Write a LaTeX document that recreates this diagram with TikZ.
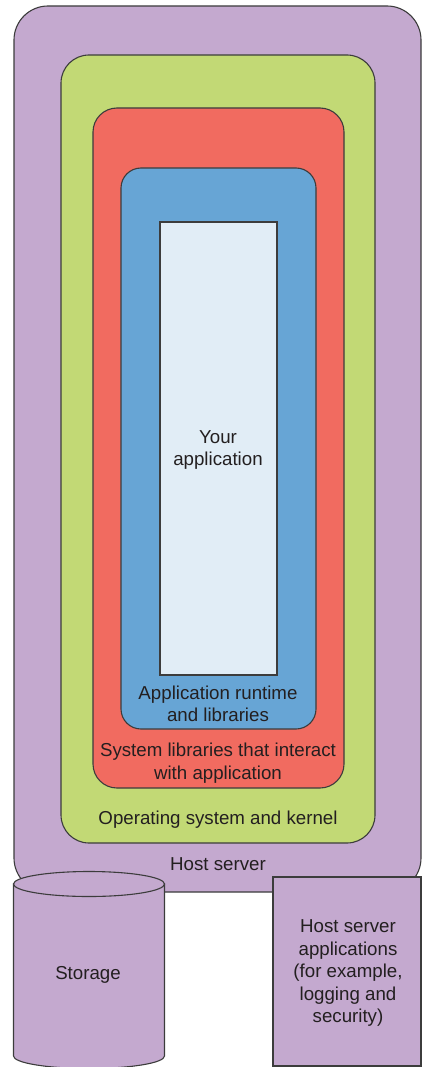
\documentclass[tikz,border=0pt]{standalone}
\usepackage{fontspec}
\setmainfont{Liberation Sans}
\definecolor{hostc}{RGB}{196,169,207}
\definecolor{osc}{RGB}{194,217,117}
\definecolor{sysc}{RGB}{241,107,96}
\definecolor{rtc}{RGB}{103,165,213}
\definecolor{appc}{RGB}{225,237,246}
\definecolor{edgec}{RGB}{60,60,60}
\definecolor{txtc}{RGB}{35,31,32}
\begin{document}
\begin{tikzpicture}[x=1pt,y=-1pt,
  layer/.style={draw=edgec,line width=1.1pt,inner sep=0pt,outer sep=0pt},
  lbl/.style={text=txtc,font=\fontsize{18.7}{22.5}\selectfont,align=center,inner sep=0pt}]
\useasboundingbox (0,0) rectangle (423,1067);
\node[layer,fill=hostc,rounded corners=34pt,minimum width=407pt,minimum height=886pt] (host) at (217.5,449) {};
\node[layer,fill=osc,rounded corners=28pt,minimum width=314pt,minimum height=788pt] (os) at (218,449) {};
\node[layer,fill=sysc,rounded corners=24pt,minimum width=251pt,minimum height=680pt] (sys) at (218.5,448) {};
\node[layer,fill=rtc,rounded corners=20pt,minimum width=195pt,minimum height=561pt] (rt) at (218.5,448.5) {};
\node[layer,fill=appc,minimum width=117pt,minimum height=453pt] (app) at (218.5,448.5) {};
\node[lbl] (applbl) at (218,450) {Your\\application};
\node[lbl] (rtlbl) at (218,704) {Application runtime\\and libraries};
\node[lbl] (syslbl) at (218,763) {System libraries that interact\\with application};
\node[lbl] (oslbl) at (218,819.5) {Operating system and kernel};
\node[lbl] (hostlbl) at (218,864.5) {Host server};
% storage cylinder
\filldraw[draw=edgec,fill=hostc,line width=1.1pt]
  (13.5,884) -- (13.5,1056) arc[start angle=180,end angle=360,x radius=75.5pt,y radius=12.5pt] -- (164.5,884) -- cycle;
\filldraw[draw=edgec,fill=hostc,line width=1.1pt] (89,884) ellipse[x radius=75.5pt,y radius=12.5pt];
\node[lbl] (storage) at (88,975) {Storage};
\node[layer,fill=hostc,minimum width=148pt,minimum height=189pt] (hostapps) at (347,971.5) {};
\node[lbl] (hostappslbl) at (348,973) {Host server\\applications\\(for example,\\logging and\\security)};
\end{tikzpicture}
\end{document}
